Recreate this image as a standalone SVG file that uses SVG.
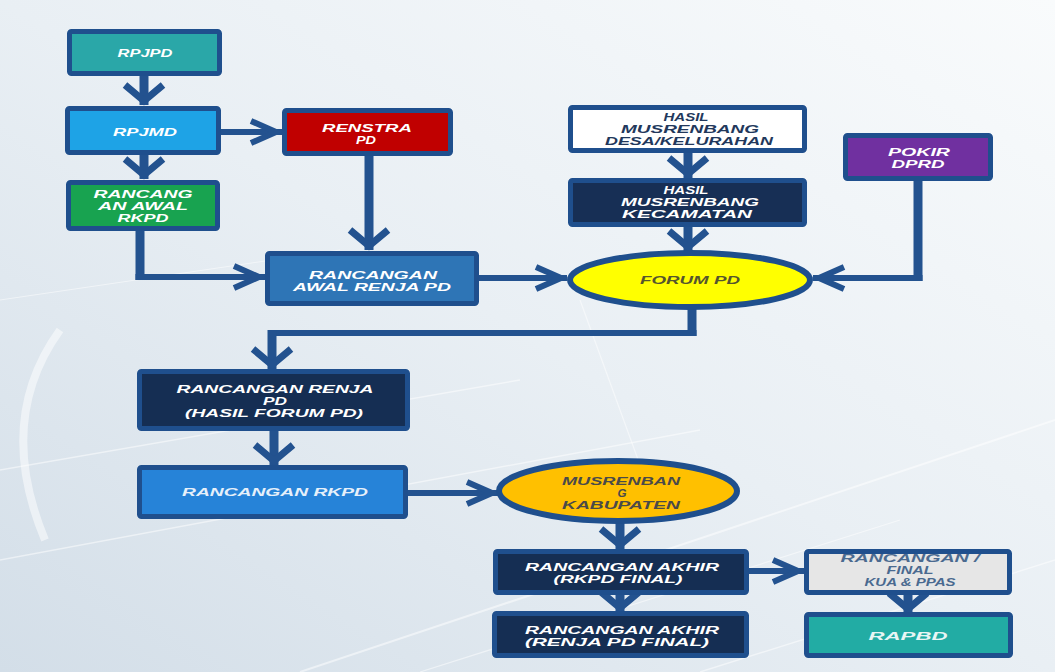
<svg xmlns="http://www.w3.org/2000/svg" width="1055" height="672" viewBox="0 0 1055 672">
<defs>
<linearGradient id="bg" x1="1" y1="0" x2="0" y2="1">
<stop offset="0" stop-color="#f9fbfc"/>
<stop offset="0.5" stop-color="#e9eff4"/>
<stop offset="1" stop-color="#d3dee8"/>
</linearGradient>
<marker id="ahV" markerUnits="userSpaceOnUse" orient="auto" overflow="visible" refX="0" refY="0" markerWidth="1" markerHeight="1">
<path d="M-20,-19 L-4,0 L-20,19" fill="none" stroke="#23528f" stroke-width="7"/>
</marker>
<marker id="ahH" markerUnits="userSpaceOnUse" orient="auto" overflow="visible" refX="0" refY="0" markerWidth="1" markerHeight="1">
<path d="M-31,-11 L-6,0 L-31,11" fill="none" stroke="#23528f" stroke-width="6"/>
</marker>
</defs>
<style>
.box{stroke:#1f4f8d;stroke-width:5}
.ell{stroke:#1f4f8d;stroke-width:6}
.t{font-family:"Liberation Sans",Arial,sans-serif;font-weight:bold;font-style:italic;font-size:10px;text-anchor:middle;fill:#ffffff}
.c{fill:none;stroke:#23528f;stroke-linecap:butt}
.v{stroke-width:9}
.h{stroke-width:6}
.bgl{fill:none;stroke:#ffffff;stroke-opacity:0.5}
</style>
<rect width="1055" height="672" fill="url(#bg)"/>
<g id="background-streaks">
<path class="bgl" d="M60,330 Q-5,420 45,540" stroke-width="8" stroke-opacity="0.25"/>
<path class="bgl" d="M0,470 L520,380" stroke-width="1.5"/>
<path class="bgl" d="M0,560 L700,430" stroke-width="1.5"/>
<path class="bgl" d="M300,672 L1055,420" stroke-width="2"/>
<path class="bgl" d="M420,672 L900,520" stroke-width="1.2"/>
<path class="bgl" d="M580,300 L660,520" stroke-width="1.2"/>
<path class="bgl" d="M700,672 L1055,560" stroke-width="1.5"/>
<path class="bgl" d="M0,300 L340,250" stroke-width="1"/>
</g>
<g id="connectors">
<path class="c v" d="M144,76 V105" marker-end="url(#ahV)"/>
<path class="c h" d="M221,132 H282" marker-end="url(#ahH)"/>
<path class="c v" d="M144,155 V179" marker-end="url(#ahV)"/>
<path class="c v" d="M140,231 V280"/>
<path class="c h" d="M135.5,277 H265" marker-end="url(#ahH)"/>
<path class="c v" d="M369,156 V250" marker-end="url(#ahV)"/>
<path class="c h" d="M479,278 H567" marker-end="url(#ahH)"/>
<path class="c v" d="M688,153 V178" marker-end="url(#ahV)"/>
<path class="c v" d="M688,227 V251" marker-end="url(#ahV)"/>
<path class="c v" d="M918,181 V281"/>
<path class="c h" d="M922.5,278 H813" marker-end="url(#ahH)"/>
<path class="c v" d="M692,306 V336"/>
<path class="c h" d="M696.5,333 H268"/>
<path class="c v" d="M272,330 V369" marker-end="url(#ahV)"/>
<path class="c v" d="M274,431 V465" marker-end="url(#ahV)"/>
<path class="c h" d="M408,493 H498" marker-end="url(#ahH)"/>
<path class="c v" d="M620,521 V549" marker-end="url(#ahV)"/>
<path class="c h" d="M749,571 H804" marker-end="url(#ahH)"/>
<path class="c v" d="M620,595 V612" marker-end="url(#ahV)"/>
<path class="c v" d="M908,595 V613" marker-end="url(#ahV)"/>
</g>
<g id="rpjpd">
<rect class="box" x="69.5" y="31.5" width="150" height="42" rx="2" fill="#2aa7a8"/>
<text class="t" x="145" y="57" textLength="55" lengthAdjust="spacingAndGlyphs">RPJPD</text>
</g>
<g id="rpjmd">
<rect class="box" x="67.5" y="108.5" width="151" height="44" rx="2" fill="#1ea3e6"/>
<text class="t" x="145" y="136" textLength="64" lengthAdjust="spacingAndGlyphs">RPJMD</text>
</g>
<g id="renstra">
<rect class="box" x="284.5" y="110.5" width="166" height="43" rx="2" fill="#c00000"/>
<text class="t" x="367" y="132" textLength="90" lengthAdjust="spacingAndGlyphs">RENSTRA</text>
<text class="t" x="366" y="144" textLength="20" lengthAdjust="spacingAndGlyphs">PD</text>
</g>
<g id="rancangan-awal-rkpd">
<rect class="box" x="68.5" y="182.5" width="149" height="46" rx="2" fill="#18a350"/>
<text class="t" x="143" y="198" textLength="99" lengthAdjust="spacingAndGlyphs">RANCANG</text>
<text class="t" x="143" y="210" textLength="90" lengthAdjust="spacingAndGlyphs">AN AWAL</text>
<text class="t" x="143" y="222" textLength="51" lengthAdjust="spacingAndGlyphs">RKPD</text>
</g>
<g id="hasil-desa">
<rect class="box" x="570.5" y="107.5" width="234" height="43" rx="2" fill="#ffffff"/>
<text class="t" x="686" y="121" textLength="45" lengthAdjust="spacingAndGlyphs" style="fill:#22385c">HASIL</text>
<text class="t" x="690" y="133" textLength="138" lengthAdjust="spacingAndGlyphs" style="fill:#22385c">MUSRENBANG</text>
<text class="t" x="689" y="145" textLength="168" lengthAdjust="spacingAndGlyphs" style="fill:#22385c">DESA/KELURAHAN</text>
</g>
<g id="hasil-kecamatan">
<rect class="box" x="570.5" y="180.5" width="234" height="44" rx="2" fill="#172f55"/>
<text class="t" x="686" y="194" textLength="45" lengthAdjust="spacingAndGlyphs">HASIL</text>
<text class="t" x="690" y="206" textLength="138" lengthAdjust="spacingAndGlyphs">MUSRENBANG</text>
<text class="t" x="687" y="218" textLength="130" lengthAdjust="spacingAndGlyphs">KECAMATAN</text>
</g>
<g id="pokir-dprd">
<rect class="box" x="845.5" y="135.5" width="145" height="43" rx="2" fill="#7030a0"/>
<text class="t" x="919" y="156" textLength="62" lengthAdjust="spacingAndGlyphs">POKIR</text>
<text class="t" x="918" y="168" textLength="53" lengthAdjust="spacingAndGlyphs">DPRD</text>
</g>
<g id="rancangan-awal-renja">
<rect class="box" x="267.5" y="253.5" width="209" height="50" rx="2" fill="#2e75b6"/>
<text class="t" x="373" y="279" textLength="128" lengthAdjust="spacingAndGlyphs">RANCANGAN</text>
<text class="t" x="372" y="291" textLength="158" lengthAdjust="spacingAndGlyphs">AWAL RENJA PD</text>
</g>
<g id="forum-pd">
<ellipse class="ell" cx="690" cy="280" rx="120" ry="27" fill="#ffff00"/>
<text class="t" x="690" y="284" textLength="100" lengthAdjust="spacingAndGlyphs" style="fill:#55552e">FORUM PD</text>
</g>
<g id="rancangan-renja-hasil-forum">
<rect class="box" x="139.5" y="371.5" width="268" height="57" rx="2" fill="#152e53"/>
<text class="t" x="275" y="393" textLength="197" lengthAdjust="spacingAndGlyphs">RANCANGAN RENJA</text>
<text class="t" x="275" y="405" textLength="24" lengthAdjust="spacingAndGlyphs">PD</text>
<text class="t" x="274" y="417" textLength="178" lengthAdjust="spacingAndGlyphs">(HASIL FORUM PD)</text>
</g>
<g id="rancangan-rkpd">
<rect class="box" x="139.5" y="467.5" width="266" height="49" rx="2" fill="#2683d8"/>
<text class="t" x="275" y="496" textLength="186" lengthAdjust="spacingAndGlyphs" style="fill:#e6f0fa">RANCANGAN RKPD</text>
</g>
<g id="musrenbang-kabupaten">
<ellipse class="ell" cx="618" cy="491" rx="119" ry="30" fill="#ffc000"/>
<text class="t" x="621" y="485" textLength="118" lengthAdjust="spacingAndGlyphs" style="fill:#4a4a4a">MUSRENBAN</text>
<text class="t" x="622" y="497" textLength="9" lengthAdjust="spacingAndGlyphs" style="fill:#4a4a4a">G</text>
<text class="t" x="621" y="509" textLength="118" lengthAdjust="spacingAndGlyphs" style="fill:#4a4a4a">KABUPATEN</text>
</g>
<g id="rancangan-akhir-rkpd-final">
<rect class="box" x="495.5" y="551.5" width="251" height="41" rx="2" fill="#152e53"/>
<text class="t" x="622" y="571" textLength="194" lengthAdjust="spacingAndGlyphs">RANCANGAN AKHIR</text>
<text class="t" x="618" y="583" textLength="129" lengthAdjust="spacingAndGlyphs">(RKPD FINAL)</text>
</g>
<g id="rancangan-final-kua-ppas">
<rect class="box" x="806.5" y="551.5" width="203" height="41" rx="2" fill="#e6e6e6"/>
<text class="t" x="910" y="562" textLength="139" lengthAdjust="spacingAndGlyphs" style="fill:#4a6a90">RANCANGAN /</text>
<text class="t" x="910" y="574" textLength="47" lengthAdjust="spacingAndGlyphs" style="fill:#4a6a90">FINAL</text>
<text class="t" x="910" y="586" textLength="91" lengthAdjust="spacingAndGlyphs" style="fill:#4a6a90">KUA &amp; PPAS</text>
</g>
<g id="rancangan-akhir-renja-final">
<rect class="box" x="494.5" y="613.5" width="252" height="42" rx="2" fill="#152e53"/>
<text class="t" x="622" y="634" textLength="194" lengthAdjust="spacingAndGlyphs">RANCANGAN AKHIR</text>
<text class="t" x="617" y="646" textLength="184" lengthAdjust="spacingAndGlyphs">(RENJA PD FINAL)</text>
</g>
<g id="rapbd">
<rect class="box" x="806.5" y="614.5" width="204" height="41" rx="2" fill="#22aca4"/>
<text class="t" x="908" y="640" textLength="79" lengthAdjust="spacingAndGlyphs" style="fill:#e8f6f5">RAPBD</text>
</g>
</svg>
